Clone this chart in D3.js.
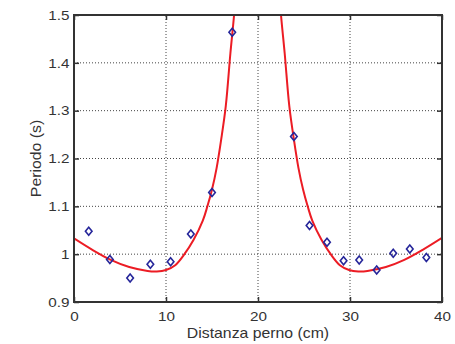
<!DOCTYPE html>
<html>
<head>
<meta charset="utf-8">
<script src="https://cdn.jsdelivr.net/npm/d3@7"></script>
<style>
  body { margin: 0; background: #fff; }
  text { font-family: "Liberation Sans", Arial, sans-serif; fill: #333; }
</style>
</head>
<body>
<script>
// misure (pendolo fisico)
var distanza = [1.6, 3.9, 6.1, 8.3, 10.5, 12.7, 15.0, 17.2, 23.9, 25.6, 27.5, 29.3, 31.0, 32.9, 34.7, 36.5, 38.3];
var periodo = [1.048, 0.989, 0.950, 0.979, 0.984, 1.042, 1.129, 1.464, 1.246, 1.060, 1.025, 0.986, 0.988, 0.967, 1.002, 1.011, 0.993];

// curva di fit
var fitX = [0, 2, 4, 6, 8, 9, 10, 11, 12, 13, 14, 14.5, 15, 15.5, 16, 16.5, 17, 17.4, 17.8,
            22.1, 22.5, 22.9, 23.4, 23.9, 24.4, 24.9, 25.4, 25.9, 26.9, 27.9, 28.9, 29.9, 30.9, 31.9, 33.9, 35.9, 37.9, 40];
var fitY = [1.033, 1.009, 0.988, 0.973, 0.965, 0.964, 0.967, 0.977, 1.0, 1.03, 1.07, 1.10, 1.135, 1.18, 1.24, 1.31, 1.42, 1.50, 1.60,
            1.60, 1.50, 1.42, 1.31, 1.24, 1.18, 1.135, 1.10, 1.07, 1.03, 1.0, 0.977, 0.967, 0.964, 0.965, 0.973, 0.988, 1.009, 1.034];

var ticksX = [0, 10, 20, 30, 40];
var ticksY = [0.9, 1, 1.1, 1.2, 1.3, 1.4, 1.5];

var breedte = 455, hoogte = 344;
var marge = {boven: 15, beneden: 42, links: 74, rechts: 13};
var rek = 1.13; // tekst is horizontaal uitgerekt in het origineel

var x = d3.scaleLinear().domain([0, 40]).range([marge.links, breedte - marge.rechts]);
var y = d3.scaleLinear().domain([0.9, 1.5]).range([hoogte - marge.beneden, marge.boven]);

var svg = d3.select("body").append("svg")
  .attr("width", breedte)
  .attr("height", hoogte);

svg.append("defs").append("clipPath").attr("id", "clip")
  .append("rect")
  .attr("x", x(0)).attr("y", y(1.5))
  .attr("width", x(40) - x(0)).attr("height", y(0.9) - y(1.5));

// griglia
svg.append("g").selectAll("line")
  .data(ticksX.slice(1, -1))
  .enter().append("line")
  .attr("x1", function(d) { return x(d); })
  .attr("x2", function(d) { return x(d); })
  .attr("y1", y(0.9)).attr("y2", y(1.5))
  .attr("stroke", "#444").attr("stroke-width", 1).attr("stroke-dasharray", "1,2");

svg.append("g").selectAll("line")
  .data(ticksY.slice(1, -1))
  .enter().append("line")
  .attr("y1", function(d) { return y(d); })
  .attr("y2", function(d) { return y(d); })
  .attr("x1", x(0)).attr("x2", x(40))
  .attr("stroke", "#444").attr("stroke-width", 1).attr("stroke-dasharray", "1,2");

// assi
var asX = d3.axisBottom(x).tickValues(ticksX).tickSize(-5).tickPadding(9).tickFormat(d3.format("d"));
var asY = d3.axisLeft(y).tickValues(ticksY).tickSize(-5).tickPadding(4).tickFormat(function(d) { return d === 1 ? "1" : d3.format(".1f")(d); });
var asXboven = d3.axisTop(x).tickValues(ticksX).tickSize(-5).tickFormat("");
var asYrechts = d3.axisRight(y).tickValues(ticksY).tickSize(-5).tickFormat("");

function stijl(g) {
  g.select(".domain").remove();
  g.selectAll(".tick line").attr("stroke", "#333").attr("stroke-width", 1.5);
  g.selectAll(".tick text").attr("font-size", "13.5px").attr("fill", "#333")
    .attr("transform", "scale(" + rek + ",1)")
    .style("font-family", "'Liberation Sans', Arial, sans-serif");
}

svg.append("g").attr("transform", "translate(0," + y(0.9) + ")").call(asX).call(stijl);
svg.append("g").attr("transform", "translate(" + x(0) + ",0)").call(asY).call(stijl);
svg.append("g").attr("transform", "translate(0," + y(1.5) + ")").call(asXboven).call(stijl);
svg.append("g").attr("transform", "translate(" + x(40) + ",0)").call(asYrechts).call(stijl);

// curva di fit
var lijn = d3.line()
  .x(function(d) { return x(d[0]); })
  .y(function(d) { return y(d[1]); })
  .curve(d3.curveCatmullRom.alpha(0.5));

var links = [], rechts = [];
for (var i = 0; i < fitX.length; i++) {
  if (fitX[i] < 20) links.push([fitX[i], fitY[i]]);
  else rechts.push([fitX[i], fitY[i]]);
}

svg.append("g").attr("clip-path", "url(#clip)").selectAll("path")
  .data([links, rechts])
  .enter().append("path")
  .attr("d", lijn)
  .attr("fill", "none")
  .attr("stroke", "#ec1c24")
  .attr("stroke-width", 2);

// punti misurati (rombi)
var punti = distanza.map(function(d, i) { return {x: d, y: periodo[i]}; });
svg.append("g").selectAll("path")
  .data(punti)
  .enter().append("path")
  .attr("transform", function(d) { return "translate(" + x(d.x) + "," + y(d.y) + ")"; })
  .attr("d", "M0,-4L3.3,0L0,4L-3.3,0Z")
  .attr("fill", "none")
  .attr("stroke", "#26269a")
  .attr("stroke-width", 1.6);

// riquadro
svg.append("rect")
  .attr("x", x(0)).attr("y", y(1.5))
  .attr("width", x(40) - x(0)).attr("height", y(0.9) - y(1.5))
  .attr("fill", "none").attr("stroke", "#333").attr("stroke-width", 2);

// titoli degli assi
svg.append("text")
  .attr("transform", "translate(" + (x(0) + x(40)) / 2 + ",338) scale(" + rek + ",1)")
  .attr("text-anchor", "middle")
  .attr("font-size", "14px")
  .text("Distanza perno (cm)");

svg.append("text")
  .attr("transform", "translate(41," + (y(0.9) + y(1.5)) / 2 + ") rotate(-90) scale(" + rek + ",1)")
  .attr("text-anchor", "middle")
  .attr("font-size", "14px")
  .text("Periodo (s)");
</script>
</body>
</html>
